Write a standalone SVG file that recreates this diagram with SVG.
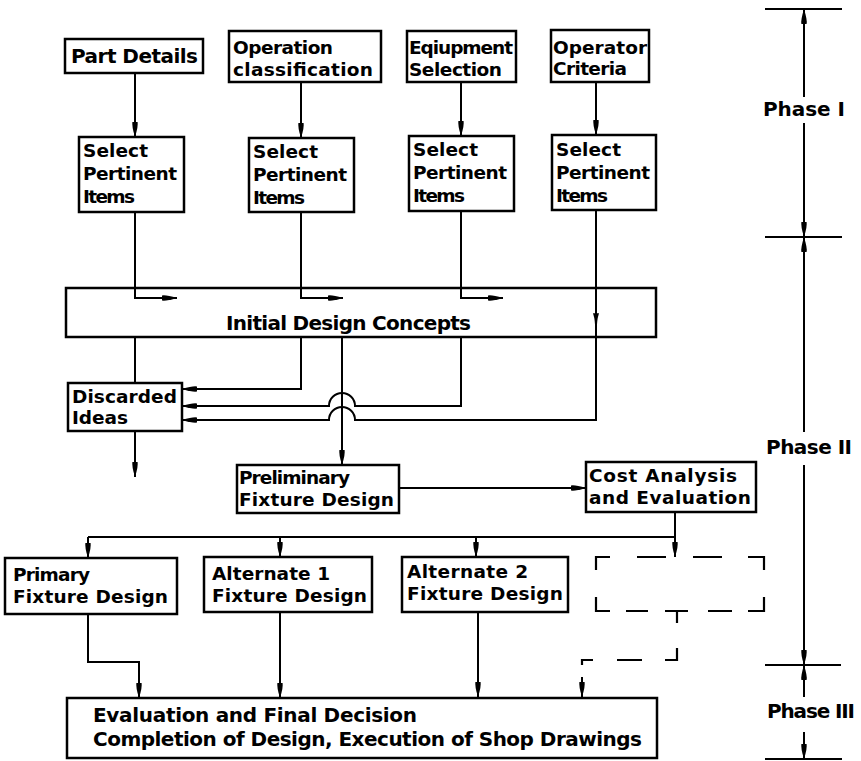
<svg xmlns="http://www.w3.org/2000/svg" width="861" height="761" viewBox="0 0 861 761">
<style>
.box{fill:#fff;stroke:#000;stroke-width:2.5}
.ln{fill:none;stroke:#000;stroke-width:2}
.ds{fill:none;stroke:#000;stroke-width:2.2}
.t{font-family:"DejaVu Sans","Liberation Sans",sans-serif;font-size:18.5px;font-weight:bold;fill:#000}
.t2{font-family:"DejaVu Sans","Liberation Sans",sans-serif;font-size:20px;font-weight:bold;fill:#000}
</style>
<defs>
<marker id="ah" markerUnits="userSpaceOnUse" markerWidth="20" markerHeight="10" refX="16" refY="5" orient="auto" overflow="visible">
<path d="M1,2.4 Q5,1.6 16,5 Q5,8.4 1,7.6 z" fill="#000"/>
</marker>
</defs>
<rect width="861" height="761" fill="#fff"/>

<g id="connectors">
<path class="ln" d="M135,73 V137" marker-end="url(#ah)"/>
<path class="ln" d="M301,82 V138" marker-end="url(#ah)"/>
<path class="ln" d="M461,82 V136" marker-end="url(#ah)"/>
<path class="ln" d="M596,82 V135" marker-end="url(#ah)"/>
</g>

<g id="n-idc"><rect class="box" x="66" y="288" width="590" height="49"/>
<text class="t2" x="226" y="330" textLength="245">Initial Design Concepts</text></g>

<g id="connectors2">
<path class="ln" d="M135,212 V298 H177" marker-end="url(#ah)"/>
<path class="ln" d="M301,212 V298 H343" marker-end="url(#ah)"/>
<path class="ln" d="M461,211 V298 H503" marker-end="url(#ah)"/>
<path class="ln" d="M596,210 V420 H355 A13,13 0 0 0 329,420 H182" marker-end="url(#ah)"/>
<path d="M594,314 Q596,320 596,331 Q596,320 598,314 z" fill="#000" stroke="#000" stroke-width="1.5"/>
<path class="ln" d="M135,337 V383"/>
<path class="ln" d="M301,337 V389 H182" marker-end="url(#ah)"/>
<path class="ln" d="M461,337 V406 H355 A13,13 0 0 0 329,406 H182" marker-end="url(#ah)"/>
<path class="ln" d="M342,337 V465" marker-end="url(#ah)"/>
<path class="ln" d="M135,431 V477" marker-end="url(#ah)"/>
<path class="ln" d="M399,488 H586" marker-end="url(#ah)"/>
<path class="ln" d="M675,512 V557" marker-end="url(#ah)"/>
<path class="ln" d="M88,537 H675"/>
<path class="ln" d="M88,537 V558" marker-end="url(#ah)"/>
<path class="ln" d="M280,537 V557" marker-end="url(#ah)"/>
<path class="ln" d="M476,537 V557" marker-end="url(#ah)"/>
<path class="ln" d="M88,614 V662 H139 V698" marker-end="url(#ah)"/>
<path class="ln" d="M280,612 V698" marker-end="url(#ah)"/>
<path class="ln" d="M478,612 V697" marker-end="url(#ah)"/>
<path class="ds" d="M677,611 V623 M677,648 V660 H665 M642,660 H617 M593,660 H582 V665"/>
<path class="ln" d="M582,677 V697" marker-end="url(#ah)"/>
</g>

<g id="n-part"><rect class="box" x="65" y="39" width="138" height="34"/>
<text class="t2" x="71" y="63" textLength="127">Part Details</text></g>
<g id="n-opclass"><rect class="box" x="229" y="31" width="152" height="51"/>
<text class="t" x="233" y="54" textLength="100">Operation</text>
<text class="t" x="233" y="76" textLength="140">classification</text></g>
<g id="n-equip"><rect class="box" x="407" y="31" width="109" height="51"/>
<text class="t" x="409" y="54" textLength="104">Eqiupment</text>
<text class="t" x="409" y="76" textLength="93">Selection</text></g>
<g id="n-operator"><rect class="box" x="551" y="30" width="98" height="52"/>
<text class="t" x="553" y="54" textLength="94">Operator</text>
<text class="t" x="553" y="75" textLength="74">Criteria</text></g>

<g id="n-sel1"><rect class="box" x="79" y="137" width="105" height="75"/>
<text class="t" x="83" y="157" textLength="65">Select</text>
<text class="t" x="83" y="180" textLength="94">Pertinent</text>
<text class="t" x="83" y="203" textLength="52">Items</text></g>
<g id="n-sel2"><rect class="box" x="249" y="138" width="105" height="74"/>
<text class="t" x="253" y="158" textLength="65">Select</text>
<text class="t" x="253" y="181" textLength="94">Pertinent</text>
<text class="t" x="253" y="204" textLength="52">Items</text></g>
<g id="n-sel3"><rect class="box" x="409" y="136" width="105" height="75"/>
<text class="t" x="413" y="156" textLength="65">Select</text>
<text class="t" x="413" y="179" textLength="94">Pertinent</text>
<text class="t" x="413" y="202" textLength="52">Items</text></g>
<g id="n-sel4"><rect class="box" x="552" y="135" width="104" height="75"/>
<text class="t" x="556" y="156" textLength="65">Select</text>
<text class="t" x="556" y="179" textLength="94">Pertinent</text>
<text class="t" x="556" y="202" textLength="52">Items</text></g>

<g id="n-discarded"><rect class="box" x="68" y="383" width="114" height="48"/>
<text class="t" x="72" y="403" textLength="105">Discarded</text>
<text class="t" x="72" y="424" textLength="56">Ideas</text></g>

<g id="n-prelim"><rect class="box" x="237" y="465" width="162" height="48"/>
<text class="t" x="239" y="484" textLength="111">Preliminary</text>
<text class="t" x="239" y="506" textLength="155">Fixture Design</text></g>
<g id="n-cost"><rect class="box" x="586" y="462" width="170" height="50"/>
<text class="t" x="589" y="482" textLength="148">Cost Analysis</text>
<text class="t" x="589" y="504" textLength="162">and Evaluation</text></g>

<g id="n-primary"><rect class="box" x="5" y="558" width="172" height="56"/>
<text class="t" x="13" y="581" textLength="77">Primary</text>
<text class="t" x="13" y="603" textLength="155">Fixture Design</text></g>
<g id="n-alt1"><rect class="box" x="204" y="557" width="168" height="55"/>
<text class="t" x="212" y="580" textLength="118">Alternate 1</text>
<text class="t" x="212" y="602" textLength="155">Fixture Design</text></g>
<g id="n-alt2"><rect class="box" x="402" y="557" width="166" height="55"/>
<text class="t" x="407" y="578" textLength="121">Alternate 2</text>
<text class="t" x="407" y="600" textLength="156">Fixture Design</text></g>
<g id="n-dashed">
<path class="ds" d="M596,570 V557 H610 M637,557 H666 M693,557 H722 M748,557 H764 V570 M764,597 V611 H748 M732,611 H708 M688,611 H665 M648,611 H626 M610,611 H596 V597"/>
</g>

<g id="n-eval"><rect class="box" x="67" y="698" width="590" height="60"/>
<text class="t2" x="93" y="722" textLength="324">Evaluation and Final Decision</text>
<text class="t2" x="93" y="746" textLength="549">Completion of Design, Execution of Shop Drawings</text></g>

<g id="phases">
<path class="ln" d="M765,9 H842 M765,237 H842 M765,665 H841 M765,759 H842"/>
<path class="ln" d="M804,97 V9" marker-end="url(#ah)"/>
<path class="ln" d="M804,123 V237" marker-end="url(#ah)"/>
<path class="ln" d="M804,432 V237" marker-end="url(#ah)"/>
<path class="ln" d="M804,465 V665" marker-end="url(#ah)"/>
<path class="ln" d="M804,697 V665" marker-end="url(#ah)"/>
<path class="ln" d="M804,732 V759" marker-end="url(#ah)"/>
<text class="t2" x="763" y="116" textLength="82">Phase I</text>
<text class="t2" x="766" y="454" textLength="86">Phase II</text>
<text class="t2" x="767" y="718" textLength="88">Phase III</text>
</g>
</svg>
